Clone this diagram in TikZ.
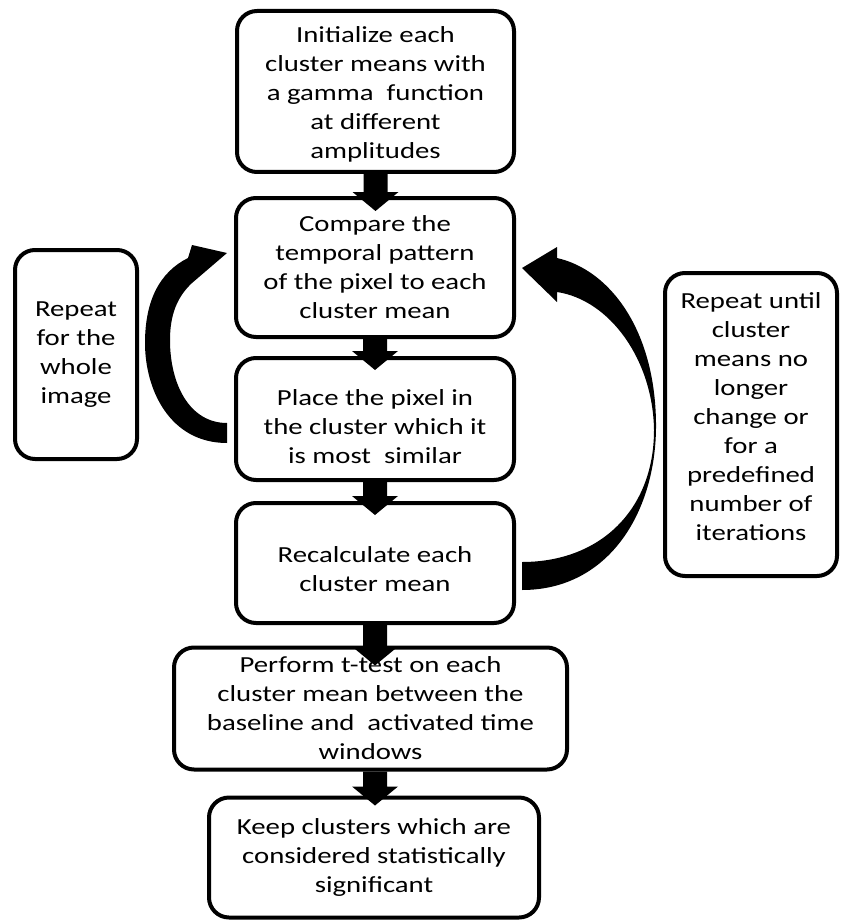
\documentclass[tikz,border=0pt]{standalone}
\usepackage{fontspec}
\setmainfont{Carlito}[FakeStretch=1.25]
\usetikzlibrary{calc}
\begin{document}
\begin{tikzpicture}[x=1pt,y=-1pt,
  box/.style={draw=black, line width=4pt, rounded corners=20pt, fill=white,
    align=center, inner sep=0pt, text=black, font=\fontsize{23}{29}\selectfont},
  blk/.style={fill=black}]
\useasboundingbox (0,0) rectangle (844,920);
\fill[white] (0,0) rectangle (844,920);
% main column
\node[box, minimum width=277pt, minimum height=161pt] (b1) at (375.5,91.5)
  {\rule{0pt}{22pt}\\[-29pt]Initialize each\\cluster means with\\a gamma\ \ function\\at different\\amplitudes};
\node[box, minimum width=278pt, minimum height=139pt] (b2) at (375,267.5)
  {Compare the\\temporal pattern\\of the pixel to each\\cluster mean};
\node[box, minimum width=278pt, minimum height=122pt] (b3) at (375,419)
  {\rule{0pt}{32pt}\\[-29pt]Place the pixel in\\the cluster which it\\is most\ \ similar};
\node[box, minimum width=278pt, minimum height=120pt] (b4) at (375,563)
  {\rule{0pt}{28pt}\\[-29pt]Recalculate each\\cluster mean};
\node[box, minimum width=393pt, minimum height=122pt] (b5) at (370.5,708.5)
  {Perform t-test on each\\cluster mean between the\\baseline and\ \ activated time\\windows};
\node[box, minimum width=330pt, minimum height=120pt] (b6) at (374,857.5)
  {Keep clusters which are\\considered statistically\\significant};
% side boxes
\node[box, minimum width=122pt, minimum height=209pt] (lb) at (76,354.5)
  {Repeat\\for the\\whole\\image};
\node[box, minimum width=172pt, minimum height=303pt] (rb) at (751,424.5)
  {Repeat until\\cluster\\means no\\longer\\change or\\for a\\predefined\\number of\\iterations\\[-14pt]~};
% block arrows: #1 shaft top point, #2 target node, #3 tip depth below target top
\newcommand\blockarrow[3]{%
  \fill[blk] let \p1=(#1), \p2=(#2.north) in
    (\x1-12pt,\y1) -- (\x1-12pt,\y2-#3+19pt) -- (\x1-23pt,\y2-#3+19pt)
    -- (\x1,\y2-#3) -- (\x1+23pt,\y2-#3+19pt) -- (\x1+12pt,\y2-#3+19pt)
    -- (\x1+12pt,\y1) -- cycle;}
\blockarrow{b1.south}{b2}{15pt}
\blockarrow{b2.south}{b3}{14pt}
\blockarrow{b3.south}{b4}{14pt}
\blockarrow{b4.south}{b5}{20pt}
\blockarrow{b4.south |- b5.south}{b6}{10pt}
% left curved arrow (from Place box back up to Compare box)
\fill[blk] (227,443) .. controls (170,443) and (145,390) .. (145,343)
  .. controls (145,300) and (160,272) .. (188,258)
  -- (192,245) -- (227,253) -- (192,283)
  .. controls (177,297) and (170,315) .. (170,340)
  .. controls (170,385) and (190,423) .. (227,423) -- cycle;
% right curved arrow (from Recalculate box back up to Compare box)
\fill[blk] (522,590) .. controls (610,590) and (657,510) .. (656,423)
  .. controls (655,330) and (610,270) .. (557,258)
  -- (557,247) -- (522,268) -- (557,302) -- (557,292)
  .. controls (610,300) and (653,360) .. (654,430)
  .. controls (654,510) and (600,562) .. (522,562) -- cycle;
\end{tikzpicture}
\end{document}
